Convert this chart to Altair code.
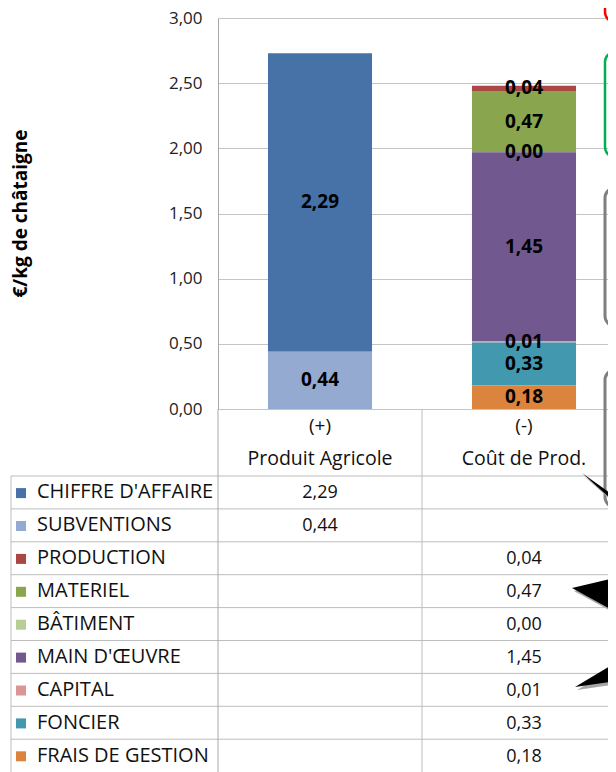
import altair as alt
import pandas as pd

# ---------------- data ----------------
categories = ["Produit Agricole", "Coût de Prod."]
category_signs = ["(+)", "(-)"]
series = ["CHIFFRE D'AFFAIRE", "SUBVENTIONS", "PRODUCTION", "MATERIEL", "BÂTIMENT",
          "MAIN D'ŒUVRE", "CAPITAL", "FONCIER", "FRAIS DE GESTION"]
series_category = ["Produit Agricole", "Produit Agricole", "Coût de Prod.", "Coût de Prod.",
                   "Coût de Prod.", "Coût de Prod.", "Coût de Prod.", "Coût de Prod.", "Coût de Prod."]
series_values = [2.29, 0.44, 0.04, 0.47, 0.00, 1.45, 0.01, 0.33, 0.18]
series_colors = ["#4672A8", "#94AAD0", "#AA4643", "#89A54E", "#B9CD96",
                 "#71588F", "#D99694", "#4198AF", "#DB843D"]
y_ticks = [0, 0.5, 1, 1.5, 2, 2.5, 3]
y_title = "€/kg de châtaigne"


def fr(v):
    return f"{v:.2f}".replace(".", ",")


df = pd.DataFrame({
    "series": series,
    "cat": series_category,
    "value": series_values,
    "idx": list(range(len(series))),
    "label": [fr(v) for v in series_values],
})
hdr = pd.DataFrame({"cat": categories, "sign": category_signs})
one = pd.DataFrame({"k": [0]})

FONT = "Open Sans"
GRID = "#c4c4c4"
LINE = "#bdbdbd"

xscale = alt.Scale(domain=categories, range=[0, 408], paddingInner=0.49, paddingOuter=0.245)
x_enc = alt.X("cat:N", scale=xscale, axis=None)
yscale = alt.Scale(domain=[0, 3], nice=False, zero=True)
tscale = alt.Scale(domain=[0, 9], range=[458, 754.1], zero=False, nice=False)
color_enc = alt.Color("series:N", scale=alt.Scale(domain=series, range=series_colors), legend=None)

# ---------------- bars ----------------
base = alt.Chart(df).transform_stack(
    stack="value", groupby=["cat"], as_=["y0", "y1"],
    sort=[alt.SortField("idx", order="descending")]
).transform_calculate(mid="(datum.y0 + datum.y1) / 2")

bars = base.mark_bar().encode(
    x=x_enc,
    y=alt.Y("y0:Q", scale=yscale, axis=alt.Axis(
        values=y_ticks, title=y_title, grid=True, gridColor=GRID, gridWidth=1,
        domain=True, domainColor="#a8a8a8", ticks=False, labelPadding=16,
        labelExpr="replace(format(datum.value, '.2f'), '.', ',')",
        labelFont=FONT, labelFontSize=17, labelColor="#222222",
        titleFont=FONT, titleFontSize=19, titleFontWeight="bold", titleColor="black",
        titleAngle=-90, titleX=-198, titleY=195, titleAlign="center", titleBaseline="middle")),
    y2="y1:Q",
    color=color_enc,
)

bar_labels = base.mark_text(font=FONT, fontSize=19, fontWeight="bold", color="black",
                            baseline="middle").encode(
    x=x_enc,
    y=alt.Y("mid:Q", scale=yscale, axis=None),
    text="label:N",
)

# ---------------- table ----------------
tbase = alt.Chart(df).transform_calculate(
    rt="datum.idx", rb="datum.idx + 0.68", rs="datum.idx + 0.52")

row_lines = tbase.mark_rule(color=LINE, strokeWidth=1).encode(
    x=alt.value(-207), x2=alt.value(398),
    y=alt.Y("rt:Q", scale=tscale, axis=None),
)

vlines = alt.Chart(one).mark_rule(color=LINE, strokeWidth=1).encode(
    x=alt.value(204), y=alt.value(391), y2=alt.value(800))
vline0 = alt.Chart(one).mark_rule(color="#a8a8a8", strokeWidth=1).encode(
    x=alt.value(0), y=alt.value(391), y2=alt.value(800))
vline_left = alt.Chart(one).mark_rule(color=LINE, strokeWidth=1).encode(
    x=alt.value(-207), y=alt.value(458), y2=alt.value(800))

squares = tbase.mark_square(size=100, opacity=1).encode(
    x=alt.value(-197),
    y=alt.Y("rs:Q", scale=tscale, axis=None),
    color=color_enc,
)

names = tbase.mark_text(font=FONT, fontSize=20, align="left", baseline="alphabetic",
                        color="#111111").encode(
    x=alt.value(-181),
    y=alt.Y("rb:Q", scale=tscale, axis=None),
    text="series:N",
)

values = tbase.mark_text(font=FONT, fontSize=18, align="center", baseline="alphabetic",
                         color="#111111").encode(
    x=x_enc,
    y=alt.Y("rb:Q", scale=tscale, axis=None),
    text="label:N",
)

hbase = alt.Chart(hdr).transform_calculate(r1="-1.337", r2="-0.33")
h_sign = hbase.mark_text(font=FONT, fontSize=19, align="center", baseline="alphabetic",
                         color="#111111").encode(
    x=x_enc, y=alt.Y("r1:Q", scale=tscale, axis=None), text="sign:N")
h_name = hbase.mark_text(font=FONT, fontSize=19.5, align="center", baseline="alphabetic",
                         color="#111111").encode(
    x=x_enc, y=alt.Y("r2:Q", scale=tscale, axis=None), text="cat:N")

# ---------------- decorative callouts (cut off at the right edge) ----------------
def box(y0, y1, color, w):
    return alt.Chart(one).mark_rect(filled=False, stroke=color, strokeWidth=w,
                                    cornerRadius=10).encode(
        x=alt.value(387), x2=alt.value(460), y=alt.value(y0), y2=alt.value(y1))


boxes = [
    box(-60, 4, "#ff0000", 2.5),
    box(34, 139, "#00b050", 2.5),
    box(170, 308, "#7f7f7f", 3),
    box(352, 489, "#7f7f7f", 3),
]


def arrow(px, py, path):
    shadow = alt.Chart(one).mark_point(shape=path, size=1936, filled=True, fill="#a6a6a6",
                                       strokeWidth=0, opacity=1, xOffset=2, yOffset=3).encode(
        x=alt.value(px), y=alt.value(py))
    black = alt.Chart(one).mark_point(shape=path, size=1936, filled=True, fill="black",
                                      strokeWidth=0, opacity=1).encode(
        x=alt.value(px), y=alt.value(py))
    return [shadow, black]


arrows = (arrow(364, 455, "M0,0L1.40,1.0L1.40,1.25Z")
          + arrow(354, 570, "M0,0L2.1,-0.5L2.1,1.15Z")
          + arrow(357, 669, "M0,0L2.1,-1.25L2.1,-0.3Z"))

chart = alt.layer(
    bars, bar_labels,
    row_lines, vlines, vline0, vline_left,
    squares, names, values, h_sign, h_name,
    *boxes, *arrows,
).resolve_scale(y="independent").properties(
    width=390, height=391,
    padding={"left": 210, "top": 10, "right": 0, "bottom": 363},
    autosize=alt.AutoSizeParams(type="none"),
).configure_view(stroke=None)

chart.save("out.html", embed_options={"renderer": "svg", "actions": False})
